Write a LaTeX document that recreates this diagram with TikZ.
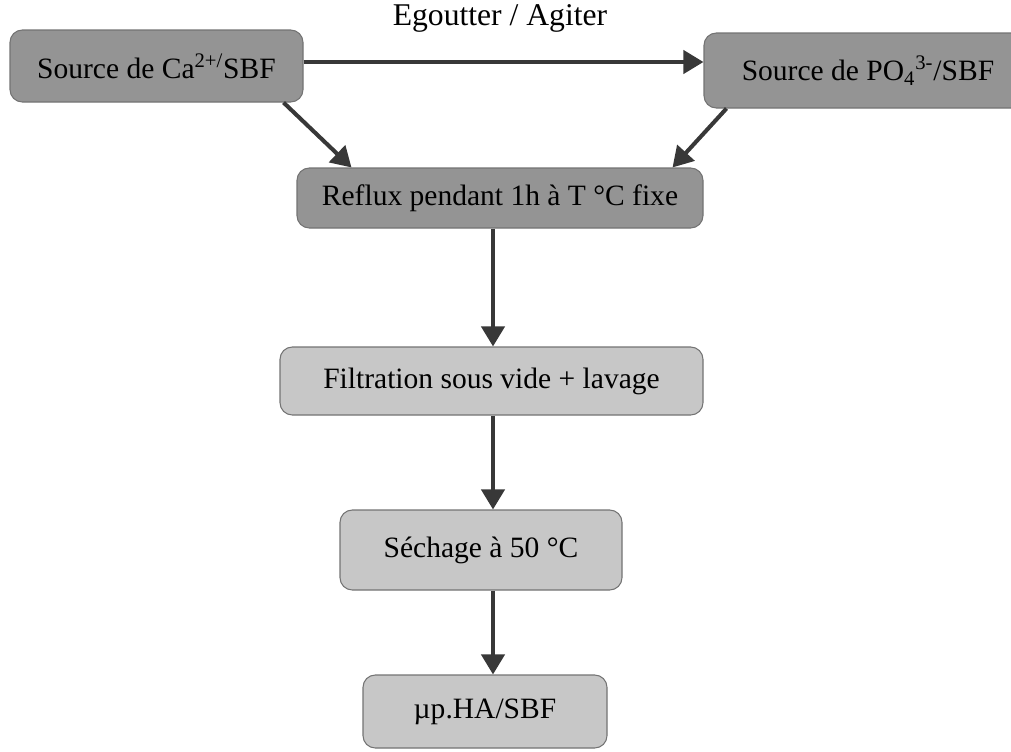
\documentclass[tikz,border=0pt]{standalone}
\usepackage{fontspec}
\setmainfont{Liberation Serif}
\usetikzlibrary{arrows.meta}

\begin{document}
\begin{tikzpicture}[
	box/.style={rounded corners=7pt, draw=black!55, line width=0.6pt, inner sep=0pt, font=\fontsize{16.8}{19}\selectfont},
	darkbox/.style={box, fill=black!42},
	lightbox/.style={box, fill=black!22},
	flowarrow/.style={draw=black!78, line width=2.3pt, -{Triangle[length=0.4cm, width=0.46cm]}}
]

	%page of the scanned figure
	\useasboundingbox (0,0) rectangle (20.22,-15.04);
	\coordinate (axis) at (9.86,0);

	%the two sources and the reflux step
	\node[darkbox, minimum width=5.86cm, minimum height=1.44cm] (srcca) at (3.13,-1.32) {Source de Ca\textsuperscript{2+/}SBF};
	\node[darkbox, minimum width=6.56cm, minimum height=1.5cm] (srcpo) at (17.36,-1.41) {Source de PO\textsubscript{4}\textsuperscript{3-}/SBF};
	\node[darkbox, minimum width=8.12cm, minimum height=1.2cm] (reflux) at (10.0,-3.96) {Reflux pendant 1h à T °C fixe};

	%following steps
	\node[lightbox, minimum width=8.46cm, minimum height=1.36cm] (filt) at (9.83,-7.62) {Filtration sous vide + lavage};
	\node[lightbox, minimum width=5.64cm, minimum height=1.6cm] (sech) at (9.62,-11.0) {Séchage à 50 °C};
	\node[lightbox, minimum width=4.88cm, minimum height=1.46cm] (prod) at (9.7,-14.23) {µp.HA/SBF};

	%label of the top arrow
	\node[font=\fontsize{18}{20}\selectfont] (mix) at (10.0,-0.36) {Egoutter / Agiter};

	%connectors
	\draw[flowarrow] ([yshift=0.08cm]srcca.east) -- ([yshift=0.08cm]srcca.east -| srcpo.west);
	\draw[flowarrow] ([xshift=-0.4cm]srcca.south east) -- ([xshift=1.1cm]reflux.north west);
	\draw[flowarrow] ([xshift=0.46cm]srcpo.south west) -- ([xshift=-0.62cm]reflux.north east);
	\draw[flowarrow] (reflux.south -| axis) -- (filt.north -| axis);
	\draw[flowarrow] (filt.south -| axis) -- (sech.north -| axis);
	\draw[flowarrow] (sech.south -| axis) -- (prod.north -| axis);

\end{tikzpicture}
\end{document}
